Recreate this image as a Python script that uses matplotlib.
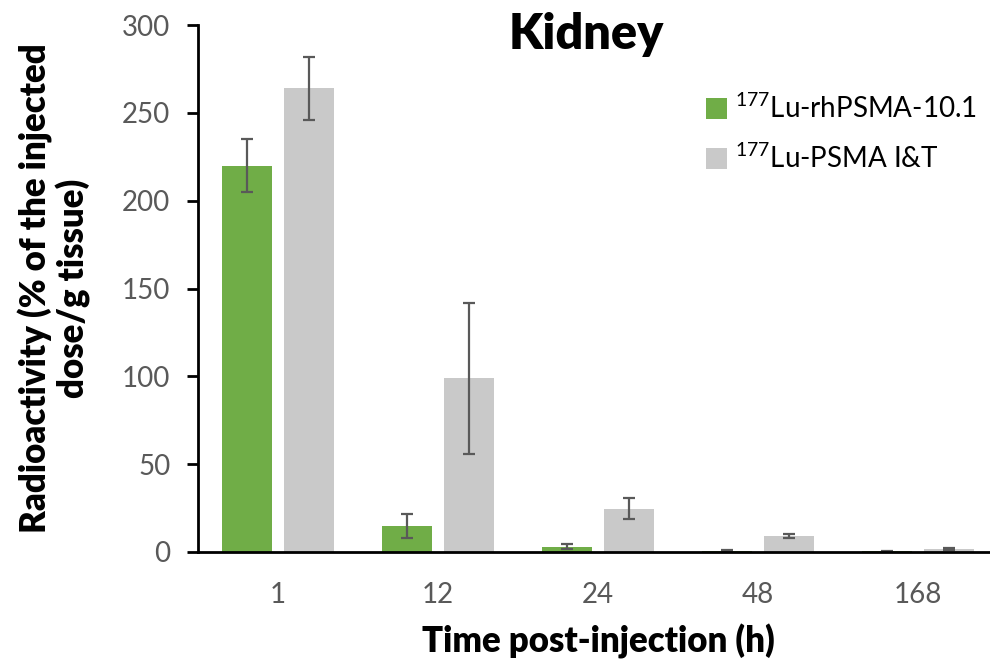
import numpy as np
import matplotlib as mpl
mpl.use('Agg')
import matplotlib.pyplot as plt
from matplotlib.patches import Patch

plt.rcParams['font.family'] = ['Lato', 'DejaVu Sans']
plt.rcParams['mathtext.fontset'] = 'custom'
plt.rcParams['mathtext.rm'] = 'Lato'
plt.rcParams['mathtext.it'] = 'Lato:italic'
plt.rcParams['mathtext.bf'] = 'Lato:bold'

# biodistribution in kidney, mean and SD
times = ['1', '12', '24', '48', '168']
rh_mean = [220, 14.8, 3.0, 0.8, 0.3]
rh_sd = [15, 7, 1.5, 0.3, 0.2]
it_mean = [264, 99, 24.5, 9.2, 1.8]
it_sd = [18, 43, 6, 1.0, 0.5]
labels = [r'$^{177}$Lu-rhPSMA-10.1', r'$^{177}$Lu-PSMA I&T']

green = '#70ad47'
grey = '#c9c9c9'
errc = '#595959'
tickc = '#595959'

fig = plt.figure(figsize=(9.9, 6.61), dpi=100)
ax = fig.add_axes([0.2, 0.165, 0.808, 0.797])

x = np.arange(len(times))
w = 0.31
off = 0.195
ekw = dict(ecolor=errc, elinewidth=1.6, capsize=4.5, capthick=1.6)
ax.bar(x - off, rh_mean, w, color=green, yerr=rh_sd, error_kw=ekw, zorder=2)
ax.bar(x + off, it_mean, w, color=grey, yerr=it_sd, error_kw=ekw, zorder=2)

ax.set_xlim(-0.5, len(times) - 0.5)
ax.set_ylim(0, 300)
ax.set_yticks(np.arange(0, 301, 50))
ax.set_xticks(x)
ax.set_xticklabels(times)

for s in ['top', 'right']:
    ax.spines[s].set_visible(False)
for s in ['left', 'bottom']:
    ax.spines[s].set_linewidth(2)
ax.tick_params(axis='y', direction='out', length=8, width=2, labelsize=20,
               labelcolor=tickc, pad=12)
ax.tick_params(axis='x', length=0, labelsize=20, labelcolor=tickc, pad=22)

ax.set_xlabel('Time post-injection (h)', fontsize=25, fontweight='heavy', labelpad=11)
ax.set_ylabel('Radioactivity (% of the injected\ndose/g tissue)', fontsize=25,
              fontweight='heavy', labelpad=22, linespacing=1.1)
ax.text(0.485, 1.025, 'Kidney', transform=ax.transAxes, fontsize=35,
        fontweight='heavy', ha='center', va='top')

handles = [Patch(facecolor=green), Patch(facecolor=grey)]
ax.legend(handles, labels, loc='upper left', bbox_to_anchor=(0.604, 0.917),
          frameon=False, fontsize=20, handlelength=0.75, handleheight=0.75,
          handletextpad=0.3, labelspacing=0.75)

fig.savefig('out.png', dpi=100)
